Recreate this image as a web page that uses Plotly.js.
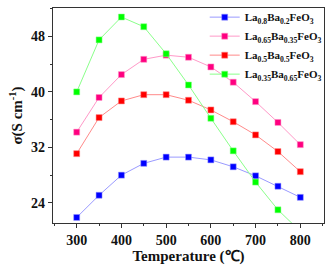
<!DOCTYPE html>
<html>
<head>
<meta charset="utf-8">
<script src="https://cdn.plot.ly/plotly-3.0.1.min.js"></script>
<style>html,body{margin:0;padding:0;background:#fff;}#chart{width:330px;height:268px;}</style>
</head>
<body>
<div id="chart"></div>
<script>
const temperature = [300, 350, 400, 450, 500, 550, 600, 650, 700, 750, 800];
const sigma_La08 = [21.9, 25.1, 28.0, 29.7, 30.6, 30.6, 30.2, 29.2, 27.9, 26.4, 24.8];
const sigma_La065 = [34.2, 39.2, 42.5, 44.7, 45.3, 45.0, 43.6, 41.4, 38.6, 35.6, 32.4];
const sigma_La05 = [31.1, 36.3, 38.7, 39.6, 39.6, 38.8, 37.4, 35.7, 33.8, 31.4, 28.5];
const sigma_La035 = [40.0, 47.5, 50.8, 49.4, 45.5, 41.0, 36.2, 31.5, 27.0, 23.0, 19.9];
const names = ['La<sub>0.8</sub>Ba<sub>0.2</sub>FeO<sub>3</sub>',
               'La<sub>0.65</sub>Ba<sub>0.35</sub>FeO<sub>3</sub>',
               'La<sub>0.5</sub>Ba<sub>0.5</sub>FeO<sub>3</sub>',
               'La<sub>0.35</sub>Ba<sub>0.65</sub>FeO<sub>3</sub>'];
const series = [sigma_La08, sigma_La065, sigma_La05, sigma_La035];
const markerColors = ['#0000ff', '#ff0080', '#ff0000', '#00ff00'];
const lineColors = ['#9a9aff', '#ff99c8', '#ff8a8a', '#8aff8a'];

const traces = series.map((s, i) => ({
  x: temperature, y: s, name: names[i], type: 'scatter', mode: 'lines+markers',
  line: {color: lineColors[i], width: 1},
  marker: {symbol: 'square', size: 6, color: markerColors[i], line: {color: lineColors[i], width: 0.5}}
}));

const fontFam = '"Liberation Serif", "Times New Roman", serif';
const layout = {
  width: 330, height: 268,
  margin: {l: 53, r: 3, t: 3, b: 45},
  paper_bgcolor: '#fff', plot_bgcolor: '#fff',
  font: {family: fontFam, color: '#111'},
  showlegend: true,
  legend: {x: 1.01, xanchor: 'right', y: 1.025, yanchor: 'top', bgcolor: 'rgba(0,0,0,0)',
           font: {family: fontFam, size: 11, color: '#111', weight: 'bold'}, tracegroupgap: 0},
  xaxis: {
    range: [247, 853], tickvals: [300, 400, 500, 600, 700, 800],
    ticks: 'outside', ticklen: 4, tickwidth: 1, tickcolor: '#333',
    minor: {ticks: 'outside', ticklen: 2, dtick: 50, tick0: 300, tickcolor: '#333'},
    showline: true, mirror: true, linecolor: '#333', linewidth: 1.2,
    showgrid: false, zeroline: false,
    tickfont: {family: fontFam, size: 14, color: '#111', weight: 'bold'},
    title: {text: 'Temperature (℃)', font: {family: fontFam, size: 15, color: '#111', weight: 'bold'}, standoff: 2}
  },
  yaxis: {
    range: [21.1, 52.1], tickvals: [24, 32, 40, 48],
    ticks: 'outside', ticklen: 4, tickwidth: 1, tickcolor: '#333',
    minor: {ticks: 'outside', ticklen: 2, dtick: 4, tick0: 24, tickcolor: '#333'},
    showline: true, mirror: true, linecolor: '#333', linewidth: 1.2,
    showgrid: false, zeroline: false,
    tickfont: {family: fontFam, size: 14, color: '#111', weight: 'bold'},
    title: {text: 'σ(S cm<sup>-1</sup>)', font: {family: fontFam, size: 15, color: '#111', weight: 'bold'}, standoff: 4}
  }
};
Plotly.newPlot('chart', traces, layout, {staticPlot: true, displayModeBar: false});
</script>
</body>
</html>
